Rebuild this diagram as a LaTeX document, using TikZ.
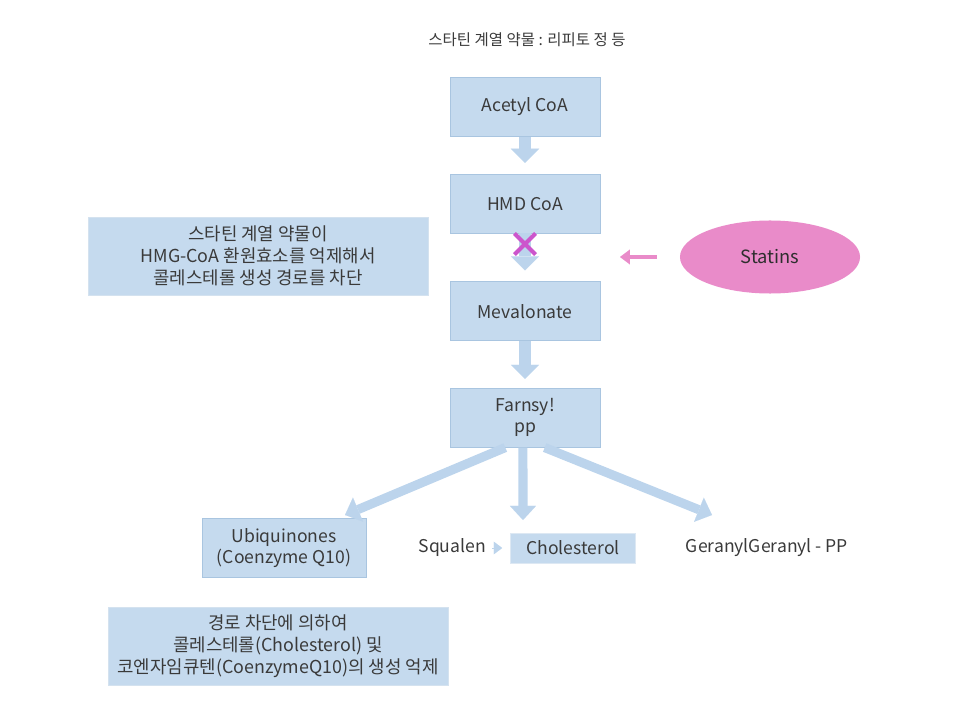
\documentclass[tikz,border=0pt]{standalone}
\usepackage{fontspec}
\setmainfont{Noto Sans CJK KR}
\usepackage{xcolor}
\usetikzlibrary{arrows.meta,positioning,shapes.geometric,shapes.misc}
\definecolor{boxblue}{HTML}{C5DAEE}
\definecolor{boxline}{HTML}{A9C5E0}
\definecolor{flowblue}{HTML}{BCD4EC}
\definecolor{statpink}{HTML}{E98BC9}
\definecolor{crossmag}{HTML}{CC55CC}
\definecolor{txtgray}{HTML}{3A3A3A}

\begin{document}
\begin{tikzpicture}[
    x=0.025cm, y=-0.025cm,
    stepbox/.style={rectangle, draw=boxline, fill=boxblue, minimum width=3.75cm, minimum height=1.475cm, font=\fontsize{12.5}{15}\selectfont, text=txtgray, align=center, inner sep=2pt},
    notebox/.style={rectangle, draw=boxline!50, fill=boxblue, minimum width=8.5cm, minimum height=1.95cm, font=\fontsize{12.7}{15.8}\selectfont, text=txtgray, align=center},
    plain/.style={font=\fontsize{12.5}{15}\selectfont, text=txtgray, inner sep=0pt},
    flow/.style={draw=flowblue, line width=8.5pt, -{Triangle[width=20pt,length=10pt,line width=0.01pt]}},
    fork/.style={draw=flowblue, line width=6.5pt, -{Triangle[width=18.5pt,length=10pt,line width=0.01pt]}},
    block/.style={draw=statpink, line width=3.2pt, -{Triangle[width=10.5pt,length=7pt,line width=0.01pt]}}
]
    \useasboundingbox (0,0) rectangle (966,714);

    \node[plain, font=\fontsize{11}{13}\selectfont] (title) at (527,40) {스타틴 계열 약물 : 리피토 정 등};

    % Main pathway
    \node[stepbox] (acetyl) at (525,107) {Acetyl CoA};
    \node[stepbox, below=0.925cm of acetyl] (hmd) {HMD CoA};
    \node[stepbox, below=1.2cm of hmd] (meva) {Mevalonate};
    \node[stepbox, below=1.175cm of meva] (farn) {Farnsy!\\pp};

    \draw[flow, shorten >=0.275cm] (acetyl) -- (hmd);
    \draw[flow, shorten >=0.275cm] (hmd) -- (meva);
    \draw[flow, shorten >=0.225cm] (meva) -- (farn);

    \node[draw=crossmag, cross out, line width=3pt, minimum size=0.42cm, inner sep=0pt] (stop) at (525,244) {};

    % Statins
    \node[ellipse, fill=statpink, minimum width=4.5cm, minimum height=1.825cm, font=\fontsize{13}{15}\selectfont, text=txtgray!80!black] (statins) at (770,257) {Statins};
    \coordinate (stoppt) at (620,257);
    \draw[block, shorten <=0.575cm] (statins.west) -- (stoppt);

    % Products
    \node[stepbox, minimum width=4.1cm] (ubi) at (284,548) {Ubiquinones\\(Coenzyme Q10)};
    \node[stepbox, minimum width=3.125cm, minimum height=0.75cm, draw=boxline!40] (chol) at (573,548) {Cholesterol};
    \node[plain, left=0.6cm of chol] (squalen) {Squalen};
    \node[plain] (geranyl) at (767,548) {GeranylGeranyl - PP};
    \draw[draw=flowblue, line width=0.1pt, -{Triangle[width=9pt,length=6pt,line width=0.01pt]}, shorten <=0.15cm, shorten >=0.2cm] (squalen.east) -- (chol.west);

    \coordinate (toubi) at (345,515);
    \coordinate (tochol) at (523,520);
    \coordinate (toger) at (712,515);
    \draw[fork] ([xshift=-14pt]farn.south) -- (toubi);
    \draw[fork] ([xshift=-1.5pt]farn.south) -- (tochol);
    \draw[fork] ([xshift=14pt]farn.south) -- (toger);

    % Notes
    \node[notebox] (note1) at (258,256) {스타틴 계열 약물이\\HMG-CoA 환원효소를 억제해서\\콜레스테롤 생성 경로를 차단};
    \node[notebox] (note2) at (278,646) {경로 차단에 의하여\\콜레스테롤(Cholesterol) 및\\코엔자임큐텐(CoenzymeQ10)의 생성 억제};
\end{tikzpicture}
\end{document}
